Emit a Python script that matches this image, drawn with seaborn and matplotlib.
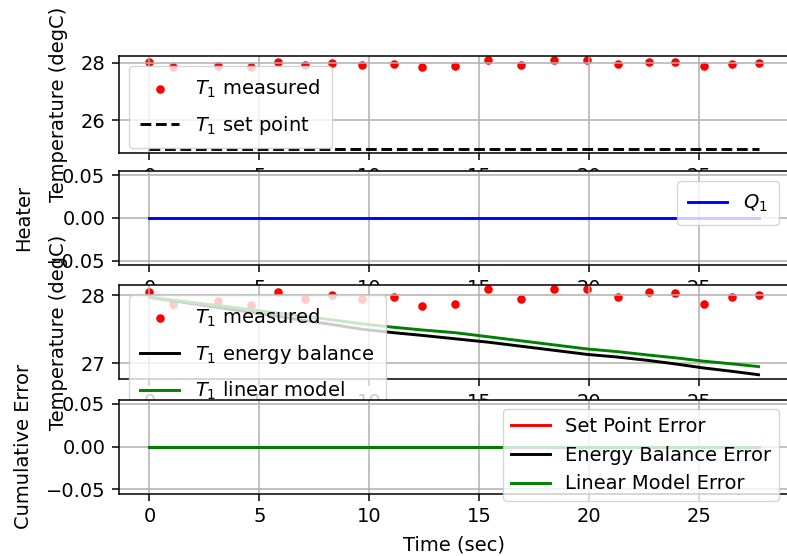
import matplotlib
matplotlib.use("Agg")
import matplotlib.pyplot as plt
import seaborn as sns

# time stamps of the samples (sec)
time = [0.0, 1.05, 3.14, 4.6, 5.85, 7.06, 8.3, 9.68, 11.1, 12.4, 13.9,
        15.4, 16.9, 18.4, 19.9, 21.3, 22.7, 23.9, 25.2, 26.5, 27.7]

# measured temperature (degC)
t1_measured = [28.05, 27.87, 27.91, 27.86, 28.05, 27.94, 28.01, 27.94, 27.97, 27.85, 27.88,
               28.09, 27.94, 28.09, 28.09, 27.98, 28.05, 28.03, 27.88, 27.98, 28.00]

# set point (degC)
t1_setpoint = [25.0, 25.0, 25.0, 25.0, 25.0, 25.0, 25.0, 25.0, 25.0, 25.0, 25.0,
               25.0, 25.0, 25.0, 25.0, 25.0, 25.0, 25.0, 25.0, 25.0, 25.0]

# heater output
q1 = [0.0, 0.0, 0.0, 0.0, 0.0, 0.0, 0.0, 0.0, 0.0, 0.0, 0.0,
      0.0, 0.0, 0.0, 0.0, 0.0, 0.0, 0.0, 0.0, 0.0, 0.0]

# model predictions (degC)
t1_energy = [27.97, 27.92, 27.82, 27.75, 27.69, 27.63, 27.57, 27.50, 27.45, 27.41, 27.36,
             27.31, 27.25, 27.19, 27.13, 27.09, 27.04, 26.99, 26.93, 26.88, 26.83]
t1_linear = [27.97, 27.93, 27.85, 27.79, 27.74, 27.69, 27.64, 27.58, 27.53, 27.49, 27.45,
             27.39, 27.33, 27.27, 27.21, 27.17, 27.12, 27.08, 27.03, 26.99, 26.95]

# cumulative errors
err_sp = [0.0, 0.0, 0.0, 0.0, 0.0, 0.0, 0.0, 0.0, 0.0, 0.0, 0.0,
          0.0, 0.0, 0.0, 0.0, 0.0, 0.0, 0.0, 0.0, 0.0, 0.0]
err_eb = [0.0, 0.0, 0.0, 0.0, 0.0, 0.0, 0.0, 0.0, 0.0, 0.0, 0.0,
          0.0, 0.0, 0.0, 0.0, 0.0, 0.0, 0.0, 0.0, 0.0, 0.0]
err_lm = [0.0, 0.0, 0.0, 0.0, 0.0, 0.0, 0.0, 0.0, 0.0, 0.0, 0.0,
          0.0, 0.0, 0.0, 0.0, 0.0, 0.0, 0.0, 0.0, 0.0, 0.0]

plt.rcParams.update({
    "font.size": 14,
    "lines.linewidth": 2.1,
    "axes.linewidth": 1.1,
    "axes.labelpad": 9,
    "grid.linewidth": 1.1,
    "xtick.major.size": 4.9,
    "ytick.major.size": 4.9,
    "xtick.major.pad": 4.9,
    "ytick.major.pad": 4.9,
    "xtick.major.width": 1.1,
    "ytick.major.width": 1.1,
    "font.family": ["DejaVu Sans"],
})

fig = plt.figure(figsize=(7.87, 5.56), dpi=100)

W, H = 787.0, 556.0
left, right = 119, 789


def add_ax(top, bottom):
    return fig.add_axes([left / W, 1 - bottom / H, (right - left) / W, (bottom - top) / H])


dot_size = 38
math_legend = dict(loc=2, labelspacing=0.72, borderpad=0.6)

# Temperature vs set point
ax1 = add_ax(56, 153)
sns.scatterplot(x=time, y=t1_measured, color="red", s=dot_size, linewidth=0,
                label=r"$T_1$ measured", ax=ax1)
sns.lineplot(x=time, y=t1_setpoint, color="k", linestyle="--",
             label=r"$T_1$ set point", ax=ax1)
ax1.set_ylabel("Temperature (degC)")
ax1.grid(True)
ax1.legend(**math_legend)

# Heater
ax2 = add_ax(171, 265)
sns.lineplot(x=time, y=q1, color="b", label=r"$Q_1$", ax=ax2)
ax2.set_ylabel("Heater")
ax2.grid(True)
ax2.legend(loc="upper right", borderpad=0.6)

# Models
ax3 = add_ax(285, 379)
sns.scatterplot(x=time, y=t1_measured, color="red", s=dot_size, linewidth=0,
                label=r"$T_1$ measured", ax=ax3)
sns.lineplot(x=time, y=t1_energy, color="k", label=r"$T_1$ energy balance", ax=ax3)
sns.lineplot(x=time, y=t1_linear, color="g", label=r"$T_1$ linear model", ax=ax3)
ax3.set_ylabel("Temperature (degC)")
ax3.grid(True)
ax3.legend(**math_legend)

# Errors
ax4 = add_ax(399.5, 493.5)
sns.lineplot(x=time, y=err_sp, color="r", label="Set Point Error", ax=ax4)
sns.lineplot(x=time, y=err_eb, color="k", label="Energy Balance Error", ax=ax4)
sns.lineplot(x=time, y=err_lm, color="g", label="Linear Model Error", ax=ax4)
ax4.set_xlabel("Time (sec)", labelpad=6.5)
ax4.set_ylabel("Cumulative Error")
ax4.grid(True)
ax4.legend(loc="upper right")

fig.savefig("out.png", dpi=100)
